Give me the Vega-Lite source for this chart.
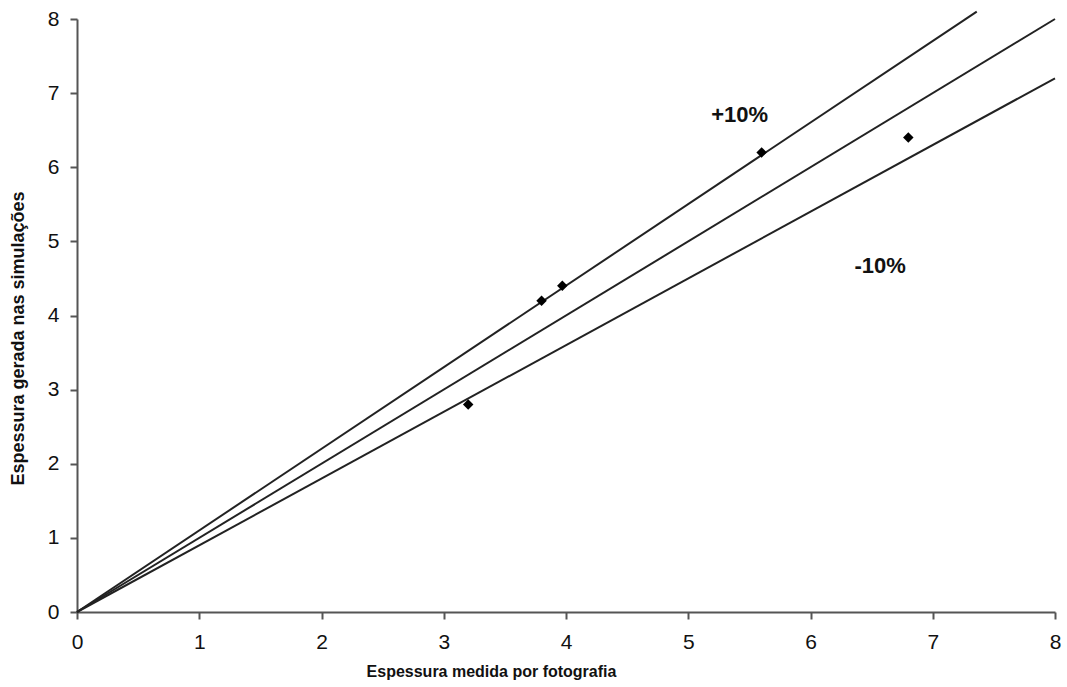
{
  "$schema": "https://vega.github.io/schema/vega-lite/v6.json",
  "width": 978,
  "height": 593,
  "autosize": "none",
  "padding": {"left": 77, "top": 19, "right": 12, "bottom": 75},
  "background": "white",
  "config": {
    "view": {"stroke": null},
    "font": "Liberation Sans",
    "axis": {
      "grid": false,
      "domainColor": "#555555",
      "domainWidth": 2,
      "tickColor": "#555555",
      "tickWidth": 2,
      "tickSize": 7,
      "labelFlush": false,
      "labelOverlap": false,
      "labelFont": "Liberation Sans",
      "labelFontSize": 21,
      "labelColor": "#111111",
      "titleFont": "Liberation Sans",
      "titleFontWeight": "bold",
      "titleColor": "#111111"
    }
  },
  "datasets": {
    "lines": [
      {"series": "+10%", "x": 0, "y": 0},
      {"series": "+10%", "x": 7.36, "y": 8.1},
      {"series": "1:1", "x": 0, "y": 0},
      {"series": "1:1", "x": 8, "y": 8},
      {"series": "-10%", "x": 0, "y": 0},
      {"series": "-10%", "x": 8, "y": 7.2}
    ],
    "points": [
      {"x": 3.2, "y": 2.8},
      {"x": 3.8, "y": 4.2},
      {"x": 3.97, "y": 4.4},
      {"x": 5.6, "y": 6.2},
      {"x": 6.8, "y": 6.4}
    ],
    "labels": [
      {"label": "+10%", "x": 5.42, "y": 6.7},
      {"label": "-10%", "x": 6.57, "y": 4.67}
    ]
  },
  "layer": [
    {
      "data": {"name": "lines"},
      "mark": {"type": "line", "color": "#222222", "strokeWidth": 2, "clip": false},
      "encoding": {
        "x": {
          "field": "x", "type": "quantitative",
          "scale": {"domain": [0, 8], "nice": false},
          "axis": {"values": [0,1,2,3,4,5,6,7,8], "format": "d", "title": "Espessura medida por fotografia", "titleFontSize": 16, "labelPadding": 12, "titleX": 414, "titleY": 51, "titleAnchor": null, "titleAlign": "center"}
        },
        "y": {
          "field": "y", "type": "quantitative",
          "scale": {"domain": [0, 8], "nice": false},
          "axis": {"values": [0,1,2,3,4,5,6,7,8], "format": "d", "title": "Espessura gerada nas simulações", "titleFontSize": 18, "labelPadding": 11, "titleX": -59, "titleY": 319, "titleAngle": 270, "titleAlign": "center", "titleBaseline": "middle"}
        },
        "detail": {"field": "series"}
      }
    },
    {
      "data": {"name": "points"},
      "mark": {"type": "point", "shape": "diamond", "filled": true, "color": "#000000", "size": 110, "opacity": 1},
      "encoding": {
        "x": {"field": "x", "type": "quantitative"},
        "y": {"field": "y", "type": "quantitative"}
      }
    },
    {
      "data": {"name": "labels"},
      "mark": {"type": "text", "fontSize": 22, "fontWeight": "bold", "color": "#111111", "align": "center", "baseline": "middle"},
      "encoding": {
        "x": {"field": "x", "type": "quantitative"},
        "y": {"field": "y", "type": "quantitative"},
        "text": {"field": "label"}
      }
    }
  ]
}
